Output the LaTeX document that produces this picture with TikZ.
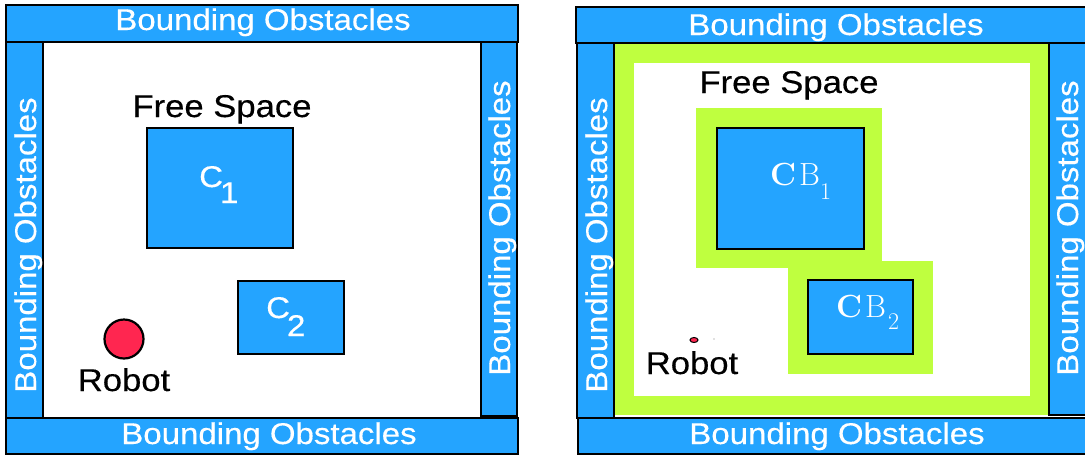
\documentclass[tikz,border=0pt]{standalone}
\usepackage{fontspec}
\newfontfamily\labelfont[FakeStretch=1.1,FakeBold=0.35]{Liberation Sans}
\definecolor{obstblue}{RGB}{36,164,255}
\definecolor{cgreen}{RGB}{191,255,63}
\definecolor{robotred}{RGB}{255,38,80}

\begin{document}
\begin{tikzpicture}[x=1pt,y=-1pt,
  obst/.style={draw=black, fill=obstblue, line width=2.6pt},
  wtext/.style={text=white, font=\labelfont\fontsize{30}{30}\selectfont, inner sep=0pt, anchor=base},
  btext/.style={text=black, font=\labelfont\fontsize{31.5}{31.5}\selectfont, inner sep=0pt, anchor=base},
  cblabel/.style={text=white, inner sep=0pt, anchor=base west},
  cgrow/.style={fill=cgreen}]
\useasboundingbox (0,0) rectangle (1085,456);
\fill[white] (0,0) rectangle (1085,456);
\begin{scope}
\clip (0,0) rectangle (1085,456);

% ---------- workspace with obstacles ----------
\draw[obst] (6,42) rectangle (43,418);
\draw[obst] (481,42) rectangle (517,416);
\draw[obst] (6,5) rectangle (518,42);
\draw[obst] (6,418) rectangle (518,454);
\node[wtext] (ltop) at (263,30) {Bounding Obstacles};
\node[wtext] (lbot) at (269,444) {Bounding Obstacles};
\node[wtext, rotate=90] (lleft) at (36,245) {Bounding Obstacles};
\node[wtext, rotate=90] (lright) at (510,228) {Bounding Obstacles};

\node[btext] (lfree) at (222,117) {Free Space};
\draw[obst] (147,128) rectangle (293,248);
\node[wtext, anchor=base west] (c1) at (199,187) {C\kern-3pt\raisebox{-16pt}{1}};
\draw[obst] (238,281) rectangle (344,354);
\node[wtext, anchor=base west] (c2) at (266,318) {C\kern-3pt\raisebox{-18pt}{2}};

\draw[line width=2.2pt, fill=robotred] (124,339) circle[radius=19.5pt];
\node[btext] (lrobot) at (124,391) {Robot};

% ---------- configuration space ----------
\fill[cgrow] (614,43) rectangle (1049,415);
\fill[white] (634,63) rectangle (1030,396);
\fill[cgrow] (696,108) rectangle (882,268);
\fill[cgrow] (788,261) rectangle (933,374);
\draw[obst] (717,128) rectangle (864,249);
\draw[obst] (808,280) rectangle (913,354);

\draw[obst] (577,43) rectangle (614,418);
\draw[obst] (1049,43) rectangle (1095,415);
\draw[obst] (576,7) rectangle (1095,43);
\draw[obst] (578,418) rectangle (1095,454);
\node[wtext] (rtop) at (836,35) {Bounding Obstacles};
\node[wtext] (rbot) at (837,444) {Bounding Obstacles};
\node[wtext, rotate=90] (rleft) at (607,245) {Bounding Obstacles};
\node[wtext, rotate=90] (rright) at (1078,228) {Bounding Obstacles};

\node[btext] (rfree) at (789,93) {Free Space};
\node[cblabel] (cb1) at (770,185) {\fontsize{32}{32}\selectfont\bfseries C\kern3pt\mdseries\fontsize{32}{32}\selectfont B\raisebox{-14pt}{\fontsize{24}{24}\selectfont 1}};
\node[cblabel] (cb2) at (836,317) {\fontsize{32}{32}\selectfont\bfseries C\kern3pt\mdseries\fontsize{32}{32}\selectfont B\kern2pt\raisebox{-12pt}{\fontsize{24}{24}\selectfont 2}};

\draw[fill=robotred, line width=1pt] (694,340) ellipse [x radius=4pt, y radius=2.5pt];
\fill[gray] (714,339) circle[radius=0.7pt];
\node[btext] (rrobot) at (692,374) {Robot};
\end{scope}
\end{tikzpicture}
\end{document}
